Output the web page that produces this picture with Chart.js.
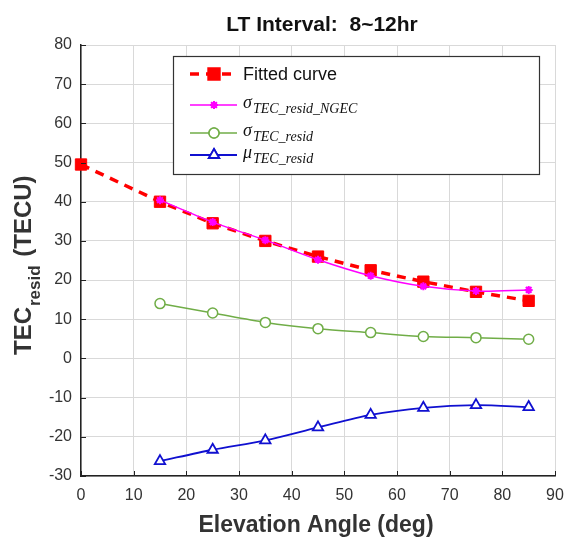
<!DOCTYPE html>
<html>
<head>
<meta charset="utf-8">
<script src="https://cdn.jsdelivr.net/npm/chart.js@4"></script>
<style>
    html, body { margin: 0; padding: 0; background: #ffffff; }
    #wrap { width: 565px; height: 542px; }
</style>
</head>
<body>
<div id="wrap"><canvas id="tecChart" width="565" height="542"></canvas></div>
<script>
// Chart values
const fitAngles = [0, 15, 25, 35, 45, 55, 65, 75, 85];
const fittedCurve = [49.5, 40, 34.5, 30, 26, 22.5, 19.6, 17, 14.7];
const elevAngles = [15, 25, 35, 45, 55, 65, 75, 85];
const sigmaNgec = [40.4, 34.8, 30.2, 25.2, 21.1, 18.4, 17.2, 17.5];
const sigmaResid = [14, 11.6, 9.2, 7.6, 6.6, 5.6, 5.3, 4.9];
const muResid = [-26.2, -23.3, -20.9, -17.6, -14.4, -12.6, -11.9, -12.4];

const xTicks = [0, 10, 20, 30, 40, 50, 60, 70, 80, 90];
const yTicks = [-30, -20, -10, 0, 10, 20, 30, 40, 50, 60, 70, 80];

const chartTitle = 'LT Interval:  8~12hr';
const xTitle = 'Elevation Angle (deg)';

// legend entries: main symbol + subscript
const legendItems = [
    { main: 'Fitted curve', sub: '', math: false },
    { main: 'σ', sub: 'TEC_resid_NGEC', math: true },
    { main: 'σ', sub: 'TEC_resid', math: true },
    { main: 'μ', sub: 'TEC_resid', math: true }
];

function toPoints(xs, ys) {
    return xs.map((x, i) => ({ x: x, y: ys[i] }));
}

const sansFont = '"Liberation Sans", Arial, sans-serif';
const serifFont = '"Liberation Serif", "DejaVu Serif", serif';

// draws title, axis titles, inward ticks and the boxed legend
const decorPlugin = {
    id: 'decor',
    afterDraw(chart) {
        const ctx = chart.ctx;
        const area = chart.chartArea;
        const xs = chart.scales.x;
        const ys = chart.scales.y;
        ctx.save();

        // inward tick marks
        ctx.strokeStyle = '#222';
        ctx.lineWidth = 1;
        ctx.beginPath();
        xTicks.forEach(v => {
            const px = Math.round(xs.getPixelForValue(v)) + 0.5;
            ctx.moveTo(px, area.bottom);
            ctx.lineTo(px, area.bottom - 5);
        });
        yTicks.forEach(v => {
            const py = Math.round(ys.getPixelForValue(v)) + 0.5;
            ctx.moveTo(area.left, py);
            ctx.lineTo(area.left + 5, py);
        });
        ctx.stroke();

        // main title
        ctx.fillStyle = '#111';
        ctx.textAlign = 'center';
        ctx.textBaseline = 'alphabetic';
        ctx.font = 'bold 21px ' + sansFont;
        ctx.fillText(chartTitle, 322, 31);

        // x axis title
        ctx.fillStyle = '#333';
        ctx.font = 'bold 23px ' + sansFont;
        ctx.fillText(xTitle, 316, 532);

        // y axis title with subscript, rotated
        ctx.save();
        ctx.translate(31, 355);
        ctx.rotate(-Math.PI / 2);
        ctx.textAlign = 'left';
        ctx.font = 'bold 24px ' + sansFont;
        ctx.fillText('TEC', 0, 0);
        let w = ctx.measureText('TEC').width;
        ctx.font = 'bold 17px ' + sansFont;
        ctx.fillText('resid', w + 1, 9);
        w += ctx.measureText('resid').width + 1;
        ctx.font = 'bold 24px ' + sansFont;
        ctx.fillText(' (TECU)', w + 2, 0);
        ctx.restore();

        // legend box
        ctx.fillStyle = '#ffffff';
        ctx.fillRect(173, 56, 366, 118);
        ctx.strokeStyle = '#333';
        ctx.lineWidth = 1.2;
        ctx.strokeRect(173.5, 56.5, 366, 118);

        const rowsY = [74, 105, 133, 155];
        chart.data.datasets.forEach((ds, i) => {
            const item = legendItems[i];
            const y = rowsY[i];
            ctx.save();
            ctx.strokeStyle = ds.borderColor;
            ctx.lineWidth = ds.borderWidth;
            ctx.setLineDash(ds.borderDash || []);
            ctx.beginPath();
            if (ds.borderDash) {
                ctx.moveTo(190, y);
                ctx.lineTo(238, y);
            } else {
                ctx.moveTo(190, y);
                ctx.lineTo(237, y);
            }
            ctx.stroke();
            ctx.setLineDash([]);
            Chart.helpers.drawPoint(ctx, {
                pointStyle: ds.pointStyle,
                radius: ds.legendRadius,
                borderWidth: ds.pointBorderWidth
            }, 214, y);
            ctx.fillStyle = ds.pointBackgroundColor;
            ctx.strokeStyle = ds.pointBorderColor;
            ctx.lineWidth = ds.pointBorderWidth;
            ctx.fill();
            ctx.stroke();
            ctx.restore();

            ctx.fillStyle = '#111';
            ctx.textAlign = 'left';
            ctx.textBaseline = 'alphabetic';
            if (!item.math) {
                ctx.font = '18px ' + sansFont;
                ctx.fillText(item.main, 243, y + 6);
            } else {
                ctx.font = 'italic 18px ' + serifFont;
                ctx.fillText(item.main, 243, y + 3);
                const mw = ctx.measureText(item.main).width;
                ctx.font = 'italic 14px ' + serifFont;
                ctx.fillText(item.sub, 243 + mw + 1, y + 8);
            }
        });
        ctx.restore();
    }
};

const ctx = document.getElementById('tecChart').getContext('2d');
const tecChart = new Chart(ctx, {
    type: 'line',
    data: {
        datasets: [{
            label: 'Fitted curve',
            data: toPoints(fitAngles, fittedCurve),
            borderColor: '#ff0000',
            borderWidth: 3.5,
            borderDash: [9, 7],
            pointStyle: 'rect',
            pointRadius: 8,
            legendRadius: 7,
            pointBorderWidth: 1,
            pointBackgroundColor: '#ff0000',
            pointBorderColor: '#ff0000',
            tension: 0,
            order: 2
        }, {
            label: 'sigma NGEC',
            data: toPoints(elevAngles, sigmaNgec),
            borderColor: '#ff00ff',
            borderWidth: 1.5,
            pointStyle: 'star',
            pointRadius: 4,
            legendRadius: 4,
            pointBorderWidth: 2,
            pointBackgroundColor: '#ff00ff',
            pointBorderColor: '#ff00ff',
            tension: 0.3,
            order: 1
        }, {
            label: 'sigma resid',
            data: toPoints(elevAngles, sigmaResid),
            borderColor: '#70ad47',
            borderWidth: 1.5,
            pointStyle: 'circle',
            pointRadius: 5,
            legendRadius: 5,
            pointBorderWidth: 1.5,
            pointBackgroundColor: '#ffffff',
            pointBorderColor: '#70ad47',
            tension: 0.3,
            order: 1
        }, {
            label: 'mu resid',
            data: toPoints(elevAngles, muResid),
            borderColor: '#1010d0',
            borderWidth: 1.8,
            pointStyle: 'triangle',
            pointRadius: 6,
            legendRadius: 6,
            pointBorderWidth: 1.8,
            pointBackgroundColor: '#ffffff',
            pointBorderColor: '#1010d0',
            tension: 0.3,
            order: 1
        }]
    },
    options: {
        responsive: false,
        animation: false,
        clip: false,
        layout: {
            padding: { left: 0, right: 10, top: 45, bottom: 0 }
        },
        plugins: {
            legend: { display: false },
            title: { display: false },
            tooltip: { enabled: false }
        },
        scales: {
            x: {
                type: 'linear',
                min: 0,
                max: 90,
                afterBuildTicks: scale => { scale.ticks = xTicks.map(v => ({ value: v })); },
                afterFit: scale => {
                    scale.height = 66;
                    scale.paddingLeft = 0;
                    scale.paddingRight = 0;
                },
                grid: { color: '#d9d9d9', lineWidth: 1, drawTicks: false },
                border: { color: '#222', width: 1.5 },
                ticks: {
                    color: '#333',
                    padding: 10,
                    font: { family: sansFont, size: 16 }
                }
            },
            y: {
                min: -30,
                max: 80,
                afterBuildTicks: scale => { scale.ticks = yTicks.map(v => ({ value: v })); },
                afterFit: scale => {
                    scale.width = 81;
                    scale.paddingTop = 0;
                    scale.paddingBottom = 0;
                },
                grid: { color: '#d9d9d9', lineWidth: 1, drawTicks: false },
                border: { color: '#222', width: 1.5 },
                ticks: {
                    color: '#333',
                    padding: 9,
                    font: { family: sansFont, size: 16 }
                }
            }
        }
    },
    plugins: [decorPlugin]
});
</script>
</body>
</html>
